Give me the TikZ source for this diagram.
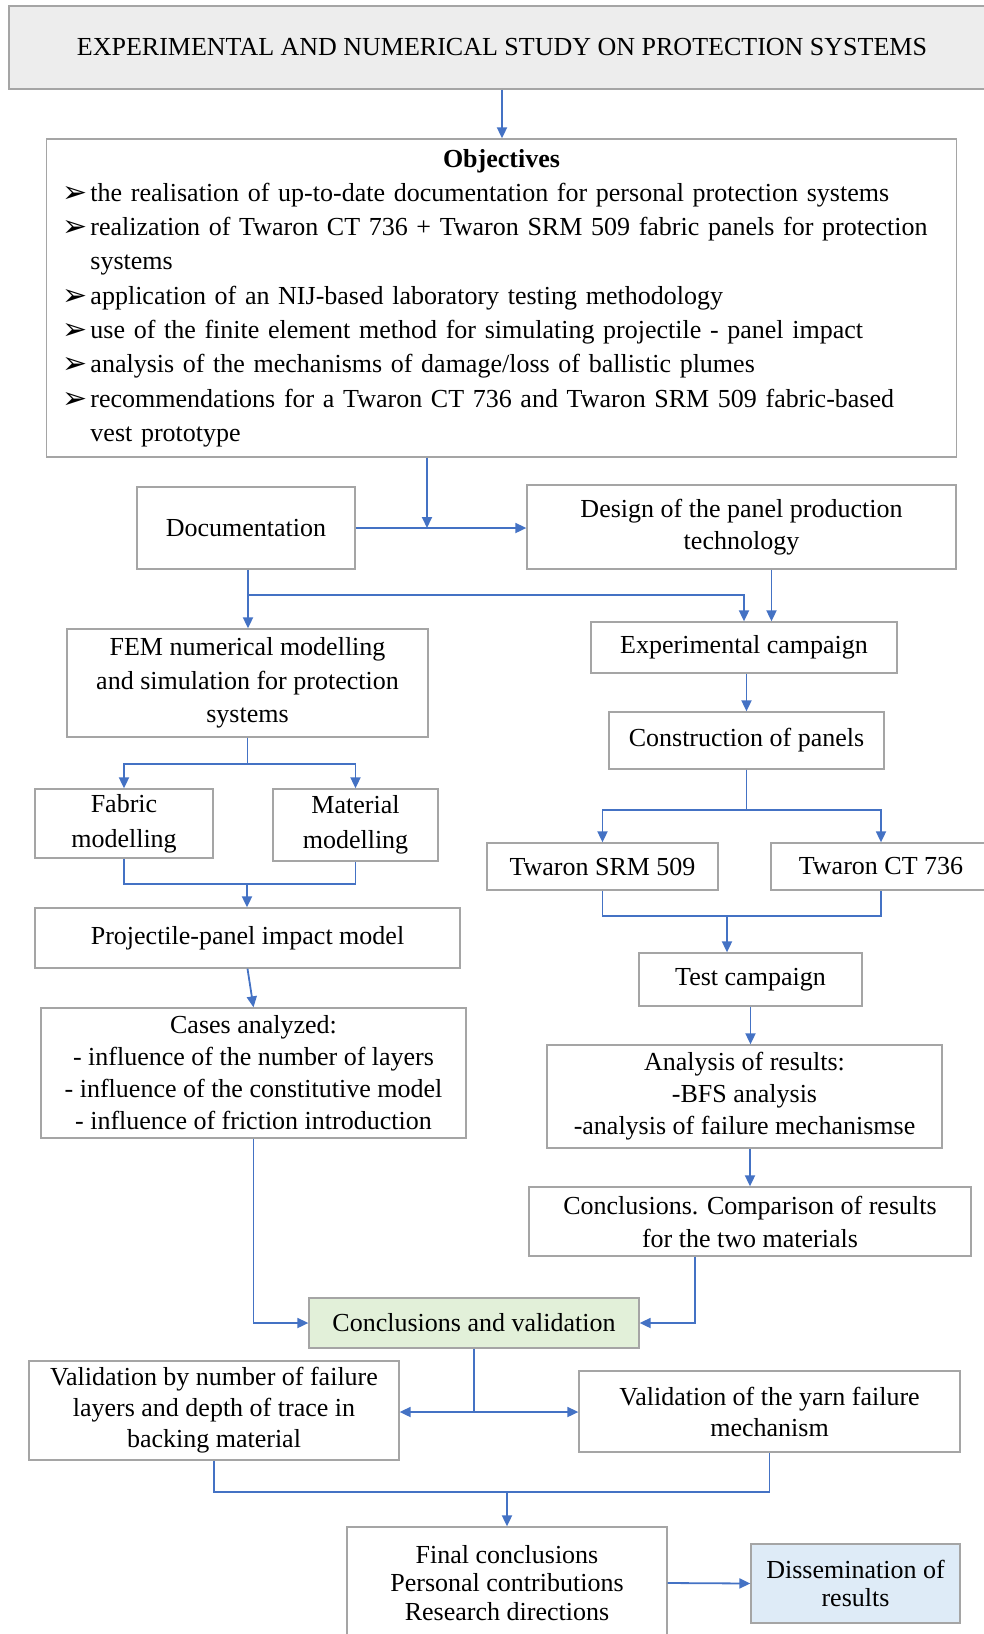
\documentclass[tikz,border=0pt]{standalone}
\usepackage{fontspec}
\setmainfont{Liberation Serif}
\newfontfamily\symfont{DejaVu Sans}
\usetikzlibrary{
  positioning,
  calc,
  arrows.meta}
\definecolor{boxgray}{RGB}{165,165,165}
\definecolor{linkblue}{RGB}{68,114,196}
\definecolor{titlefill}{RGB}{237,237,237}
\definecolor{cvfill}{RGB}{226,240,217}
\definecolor{dissemfill}{RGB}{222,235,247}
\newcommand{\bul}{\makebox[28pt][l]{\raisebox{-1pt}{\symfont\fontsize{30}{30}\selectfont ➢}}}
\tikzset{
  %% box : a stage of the study
  box/.style={
    rectangle,
    draw=boxgray,
    line width=1.3pt,
    inner sep=0pt,
    align=center,
    font=\fontsize{26}{32}\selectfont
  },
  %% link : plain connector line
  link/.style={linkblue, line width=1.8pt},
  %% arr : connector ending with an arrow
  arr/.style={link, -{Triangle[length=11pt,width=10pt]}}
}
\begin{document}
\begin{tikzpicture}
  [x=1pt,
  y=-1pt]

  \useasboundingbox (0,0) rectangle (984,1634);

  %% Title and objectives
  \node (title) [box, fill=titlefill, minimum width=986pt, minimum height=83pt]
  at (502,47.5) {EXPERIMENTAL AND NUMERICAL STUDY ON PROTECTION SYSTEMS};

  \node (obj) [box, minimum width=910pt, minimum height=318pt,
    text width=878pt, align=left, font=\fontsize{26}{34.3}\selectfont]
  at (501.5,298) {%
    \makebox[\linewidth]{\textbf{Objectives}}\\
    \bul the realisation of up-to-date documentation for personal protection systems\\
    \bul realization of Twaron CT 736 + Twaron SRM 509 fabric panels for protection\\
    \hspace*{28pt}systems\\
    \bul application of an NIJ-based laboratory testing methodology\\
    \bul use of the finite element method for simulating projectile - panel impact\\
    \bul analysis of the mechanisms of damage/loss of ballistic plumes\\
    \bul recommendations for a Twaron CT 736 and Twaron SRM 509 fabric-based\\
    \hspace*{28pt}vest prototype
  };

  \node (doc) [box, minimum width=218pt, minimum height=82pt] at (246,528) {%
    Documentation};

  \node (design) [box, minimum width=429pt, minimum height=84pt] at (741.5,527) {%
    Design of the panel production\\ technology};

  %% Numerical branch
  \node (fem) [box, minimum width=361pt, minimum height=108pt,
    font=\fontsize{26}{33.5}\selectfont] at (247.5,683) {%
    FEM numerical modelling\\ and simulation for protection\\ systems};

  \node (fabric) [box, minimum width=178pt, minimum height=69pt,
    font=\fontsize{26}{35}\selectfont] at (124,823.5) {%
    Fabric\\ modelling};

  \node (material) [box, minimum width=165pt, minimum height=72pt,
    font=\fontsize{26}{35}\selectfont] at (355.5,825) {%
    Material\\ modelling};

  \node (proj) [box, minimum width=425pt, minimum height=60pt] at (247.5,938) {%
    Projectile-panel impact model};

  \node (cases) [box, minimum width=425pt, minimum height=130pt] at (253.5,1073) {%
    Cases analyzed:\\
    - influence of the number of layers\\
    - influence of the constitutive model\\
    - influence of friction introduction};

  %% Experimental branch
  \node (exp) [box, minimum width=306pt, minimum height=51pt] at (744,647.5) {%
    Experimental campaign};

  \node (constr) [box, minimum width=275pt, minimum height=57pt] at (746.5,740.5) {%
    Construction of panels};

  \node (srm) [box, minimum width=231pt, minimum height=47pt] at (602.5,866.5) {%
    Twaron SRM 509};

  \node (ct) [box, minimum width=220pt, minimum height=47pt] at (881,866.5) {%
    Twaron CT 736};

  \node (test) [box, minimum width=223pt, minimum height=53pt] at (750.5,979.5) {%
    Test campaign};

  \node (analysis) [box, minimum width=395pt, minimum height=103pt] at (744.5,1096.5) {%
    Analysis of results:\\
    -BFS analysis\\
    -analysis of failure mechanismse};

  \node (concl) [box, minimum width=442pt, minimum height=69pt,
    font=\fontsize{26}{33}\selectfont] at (750,1221.5) {%
    Conclusions. Comparison of results\\ for the two materials};

  %% Validation and final stage
  \node (cv) [box, fill=cvfill, minimum width=330pt, minimum height=50pt] at (474,1323) {%
    Conclusions and validation};

  \node (valnum) [box, minimum width=370pt, minimum height=99pt,
    font=\fontsize{26}{31}\selectfont] at (214,1410.5) {%
    Validation by number of failure\\ layers and depth of trace in\\ backing material};

  \node (yarn) [box, minimum width=381pt, minimum height=81pt,
    font=\fontsize{26}{31}\selectfont] at (769.5,1411.5) {%
    Validation of the yarn failure\\ mechanism};

  \node (final) [box, minimum width=320pt, minimum height=112pt,
    font=\fontsize{26}{28.5}\selectfont] at (507,1583) {%
    Final conclusions\\ Personal contributions\\ Research directions};

  \node (dissem) [box, fill=dissemfill, minimum width=209pt, minimum height=79pt,
    font=\fontsize{26}{28.5}\selectfont] at (855.5,1583.5) {%
    Dissemination of\\ results};

  %% Junction points
  \coordinate (objdrop) at (427,528);
  \coordinate (docsplit) at (248,595);
  \coordinate (twjoin) at (727,916);
  \coordinate (modjoin) at (247,884);
  \coordinate (cvsplit) at (474,1412);
  \coordinate (valjoin) at (507,1492);

  %% Connections
  \draw [arr] (title.south) -- (title.south |- obj.north);
  \draw [arr] (obj.south -| objdrop) -- (objdrop);
  \draw [arr] (doc.east) -- (doc.east -| design.west);

  \draw [arr] (doc.south -| docsplit) -- (docsplit |- fem.north);
  \draw [arr] (docsplit) -| (exp.north);
  \draw [arr] ([xshift=30pt]design.south) -- ([xshift=30pt]design.south |- exp.north);

  \draw [arr] (exp.south -| constr.north) -- (constr.north);
  \draw [arr] (constr.south) -- ++(0,40) -| (srm.north);
  \draw [arr] (constr.south) -- ++(0,40) -| (ct.north);
  \draw [link] (srm.south) |- (twjoin) -| (ct.south);
  \draw [arr] (twjoin) -- (twjoin |- test.north);
  \draw [arr] (test.south) -- (test.south |- analysis.north);
  \draw [arr] (concl.north |- analysis.south) -- (concl.north);
  \draw [arr] ([xshift=-55pt]concl.south) |- (cv.east);

  \draw [arr] (fem.south) -- ++(0,26) -| (fabric.north);
  \draw [arr] (fem.south) -- ++(0,26) -| (material.north);
  \draw [link] (fabric.south) |- (modjoin) -| (material.south);
  \draw [arr] (modjoin) -- (modjoin |- proj.north);
  \draw [arr] (proj.south) -- (cases.north);
  \draw [arr] (cases.south) |- (cv.west);

  \draw [link] (cv.south) -- (cvsplit);
  \draw [arr] (cvsplit) -- (cvsplit -| valnum.east);
  \draw [arr] (cvsplit) -- (cvsplit -| yarn.west);
  \draw [link] (valnum.south) |- (valjoin) -| (yarn.south);
  \draw [arr] (valjoin) -- (final.north);
  \draw [arr] (final.east) -- (dissem.west);

\end{tikzpicture}
\end{document}
